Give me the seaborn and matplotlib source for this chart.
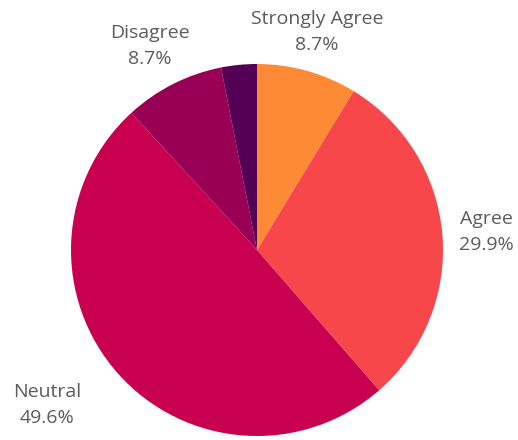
import matplotlib
matplotlib.use("Agg")
import matplotlib.pyplot as plt
import seaborn as sns

# Survey responses, clockwise from 12 o'clock
categories = ["Strongly Agree", "Agree", "Neutral", "Disagree", "Strongly Disagree"]
shares = [8.7, 29.9, 49.6, 8.7, 3.1]
show_label = [True, True, True, True, False]

colors = ["#FF8A35", "#F7474A", "#C9004F", "#990055", "#540055"]

sns.set_theme(style="white")
plt.rcParams["font.family"] = ["Open Sans", "DejaVu Sans"]

fig = plt.figure(figsize=(5.18, 4.40), dpi=100)
ax = fig.add_axes([0, 0, 1, 1])

ax.pie(shares, colors=colors, startangle=90, counterclock=False,
       radius=1.0, wedgeprops=dict(linewidth=0))

# label anchors (data units, pie radius = 1) and alignment
label_layout = {
    "Strongly Agree": (0.323, 1.172, "center"),
    "Agree": (1.085, 0.097, "left"),
    "Neutral": (-1.313, -0.833, "left"),
    "Disagree": (-0.575, 1.097, "center"),
}
for cat, val, show in zip(categories, shares, show_label):
    if not show:
        continue
    x, y, ha = label_layout[cat]
    ax.text(x, y, f"{cat}\n{val:.1f}%", ha=ha, va="center",
            multialignment="center", fontsize=14, color="#5c5c5c",
            linespacing=1.55)

ax.set_xlim(-257 / 186, (518 - 257) / 186)
ax.set_ylim(-190 / 186, 250 / 186)
ax.set_aspect("equal")
ax.axis("off")

fig.savefig("out.png", dpi=100)
